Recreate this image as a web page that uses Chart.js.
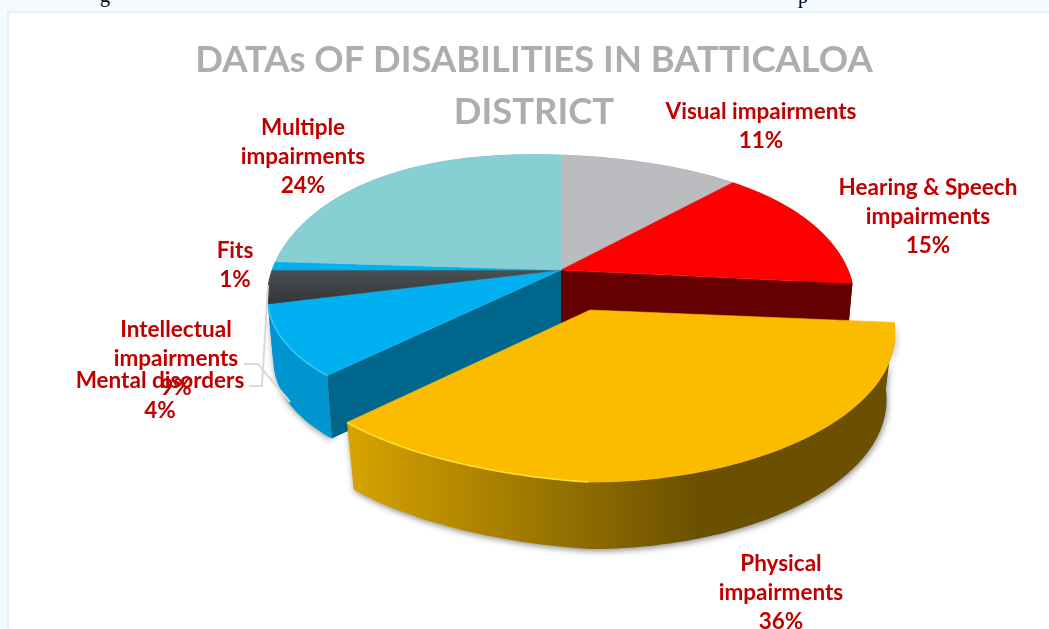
<!DOCTYPE html>
<html>
<head>
<meta charset="utf-8">
<style>
html,body{margin:0;padding:0;width:1049px;height:629px;overflow:hidden;background:#F3FBFE;}
#panel{position:absolute;left:7px;top:11px;width:1100px;height:700px;background:#fff;border-left:2px solid #E6EFEF;border-top:2px solid #E6EFEF;}
.frag{position:absolute;font:20px "Liberation Serif",serif;color:#000;line-height:20px;}
#wrap{position:absolute;left:0;top:0;width:1049px;height:629px;overflow:hidden;}
canvas{position:absolute;left:0;top:0;}
</style>
</head>
<body>
<span class="frag" style="left:100px;top:-15px">g</span>
<span class="frag" style="left:798px;top:-14px">p</span>
<div id="panel"></div>
<div id="wrap"><canvas id="c" width="1068" height="629"></canvas></div>
<script src="https://cdn.jsdelivr.net/npm/chart.js@4"></script>
<script>
const titleLines = ["DATAs OF DISABILITIES IN BATTICALOA", "DISTRICT"];
const categories = ["Visual impairments", "Hearing & Speech impairments", "Physical impairments", "Intellectual impairments", "Mental disorders", "Fits", "Multiple impairments"];
const percentValues = [11, 15, 36, 9, 4, 1, 24];
const sliceColors = ["#BBBCC0", "#FE0000", "#FBBC00", "#00B0F0", "#3F4345", "#00B0F0", "#87CFD3"];
const wallColors = ["#70717A", "#640000", "#6A5000", "#0095CF", "#0095CF", "#0095CF", "#5A9094"];
const explodeOffsets = [0, 0, 30, 0, 0, 0, 0];

// Label wrapping and placement (layout only)
const labelWraps = [
  ["Visual impairments"], ["Hearing & Speech", "impairments"], ["Physical", "impairments"],
  ["Intellectual", "impairments"], ["Mental disorders"], ["Fits"], ["Multiple", "impairments"]
];
const labelCentres = [[761,111.5],[928,187.5],[781,563.5],[176,329.5],[160,381],[235,250.5],[303,127.5]];
const labelStep = 29.3;
const leaderLines = [
  [[244,364],[258,364],[290,402]],
  [[249,386],[262,386],[268,285]]
];

// Perspective of the tilted disc
const mainDisc = {cx:561, cy:270, X:289, Y:133.7, k:0.1624, s:-23, t:-12, ex:24, ey:10, w:5, depth:63, sx:0.98};
const liftedDisc = {cx:590, cy:310, X:302.4, Y:149.4, k:0.1316, s:-35, t:-20, ex:0, ey:0, w:3, depth:67, sx:0.972};

function project(d, theta, bottom){
  const u = Math.sin(theta), v = -Math.cos(theta), q = 1 - d.k*v;
  const left = v*v*Math.max(0,-u), back = (v<0 && u>0) ? u*v*v : 0;
  let x = (d.X*u + d.s*left + d.ex*back)/q;
  let y = (d.Y*v + d.t*left + d.ey*back)/q + d.w*Math.pow(Math.max(0,u),4);
  if (bottom){ x *= d.sx; y += d.depth; }
  return [d.cx + x, d.cy + y];
}
function trace(ctx, d, a, b, bottom, moveFirst){
  const n = Math.max(4, Math.ceil((b-a)/0.02));
  for (let i=0;i<=n;i++){
    const p = project(d, a+(b-a)*i/n, bottom);
    if (i===0 && moveFirst) ctx.moveTo(p[0],p[1]); else ctx.lineTo(p[0],p[1]);
  }
}
function wall(ctx, d, a, b, fill, shadow){
  ctx.save();
  if (shadow){ ctx.shadowColor='rgba(0,0,0,0.45)'; ctx.shadowBlur=6; ctx.shadowOffsetY=2; ctx.shadowOffsetX=1; }
  ctx.beginPath();
  trace(ctx,d,a,b,false,true);
  const n=Math.max(4, Math.ceil((b-a)/0.02));
  for(let i=0;i<=n;i++){ const p=project(d,b-(b-a)*i/n,true); ctx.lineTo(p[0],p[1]); }
  ctx.closePath();
  ctx.fillStyle=fill; ctx.fill();
  ctx.restore();
}
function cutWall(ctx, d, theta, fill){
  const t=project(d,theta,false), bt=project(d,theta,true);
  ctx.beginPath();
  ctx.moveTo(d.cx,d.cy); ctx.lineTo(t[0],t[1]); ctx.lineTo(bt[0],bt[1]); ctx.lineTo(d.cx,d.cy+d.depth);
  ctx.closePath(); ctx.fillStyle=fill; ctx.fill();
}
function topFace(ctx, d, a, b, fill){
  ctx.beginPath(); ctx.moveTo(d.cx,d.cy);
  trace(ctx,d,a,b,false,false);
  ctx.closePath(); ctx.fillStyle=fill; ctx.fill();
  ctx.strokeStyle=fill; ctx.lineWidth=0.6; ctx.stroke();
}
function rim(ctx, d, a, b, color){
  ctx.beginPath(); trace(ctx,d,a,b,false,true);
  ctx.strokeStyle=color; ctx.lineWidth=1.6; ctx.stroke();
}

const disc3d = {
  id:'disc3d',
  beforeDatasetsDraw(chart){
    const ctx=chart.ctx, arcs=chart.getDatasetMeta(0).data;
    const span=arcs.map(a=>[a.startAngle+Math.PI/2, a.endAngle+Math.PI/2]);
    const lifted=arcs.map((a,i)=>explodeOffsets[i]>0);
    ctx.save();
    // remaining disc: walls exposed by the lifted slice
    arcs.forEach((a,i)=>{ if(!lifted[i]) wall(ctx,mainDisc,span[i][0],span[i][1],wallColors[i],i===3); });
    arcs.forEach((a,i)=>{ if(lifted[i]){
      cutWall(ctx,mainDisc,span[i][0],wallColors[i-1]);
      cutWall(ctx,mainDisc,span[i][1],"#00668C");
    }});
    arcs.forEach((a,i)=>{ if(!lifted[i]){
      let fill=sliceColors[i];
      if(i===4){ const g=ctx.createLinearGradient(0,266,0,302); g.addColorStop(0,'#4E5456'); g.addColorStop(1,'#33383A'); fill=g; }
      topFace(ctx,mainDisc,span[i][0],span[i][1],fill);
    }});
    rim(ctx,mainDisc,span[3][0],span[3][1],'#35C6F8');
    // lifted slice
    arcs.forEach((a,i)=>{ if(lifted[i]){
      const g=ctx.createLinearGradient(350,0,700,0);
      g.addColorStop(0,'#D6A300'); g.addColorStop(1,wallColors[i]);
      wall(ctx,liftedDisc,span[i][0],span[i][1],g,true);
      topFace(ctx,liftedDisc,span[i][0],span[i][1],sliceColors[i]);
      rim(ctx,liftedDisc,span[i][1]-0.75,span[i][1],'#FFDE30');
    }});
    ctx.restore();
    return false;
  },
  afterDraw(chart){
    const ctx=chart.ctx;
    ctx.save();
    ctx.strokeStyle='#D9D9D9'; ctx.lineWidth=2;
    leaderLines.forEach(l=>{ ctx.beginPath(); l.forEach((p,i)=> i?ctx.lineTo(p[0],p[1]):ctx.moveTo(p[0],p[1])); ctx.stroke(); });
    ctx.fillStyle='#C00000'; ctx.font='bold 22.5px Lato'; ctx.textAlign='center'; ctx.textBaseline='middle';
    categories.forEach((c,i)=>{
      const lines=labelWraps[i].concat([percentValues[i]+'%']);
      lines.forEach((t,j)=>ctx.fillText(t,labelCentres[i][0],labelCentres[i][1]+j*labelStep));
    });
    ctx.restore();
  }
};

new Chart(document.getElementById('c'),{
  type:'pie',
  data:{labels:categories,datasets:[{data:percentValues,backgroundColor:sliceColors,offset:explodeOffsets,borderWidth:0}]},
  options:{
    responsive:false,animation:false,rotation:0,
    layout:{padding:0},
    plugins:{
      legend:{display:false},tooltip:{enabled:false},
      title:{display:true,text:titleLines,color:'#ADADAD',align:'center',
        font:{family:'Lato',weight:'bold',size:36.4,lineHeight:1.41},padding:{top:35,bottom:10}}
    }
  },
  plugins:[disc3d]
});
</script>
</body>
</html>
